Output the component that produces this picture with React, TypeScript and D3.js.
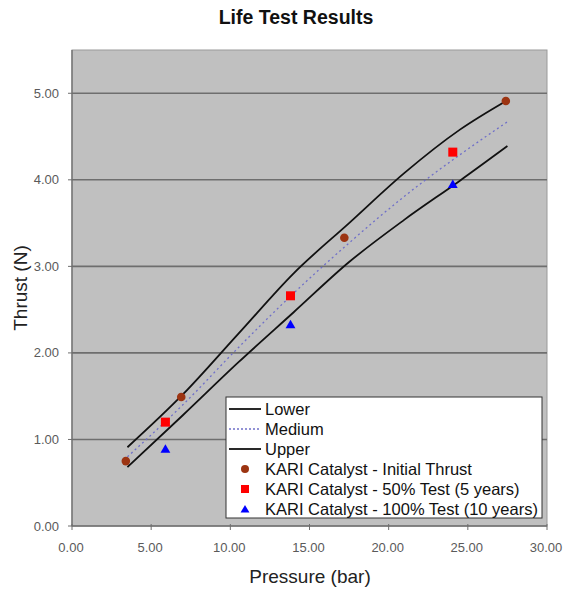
import React from 'react';
import * as d3 from 'd3';

// pressure (bar) where the model curves were sampled
const curvePressure = [3.5, 7, 10.5, 14, 17.5, 21, 24.5, 27.5];
const lowerThrust = [0.68, 1.28, 1.89, 2.47, 3.05, 3.54, 3.99, 4.39];
const mediumThrust = [0.8, 1.4, 2.06, 2.69, 3.27, 3.81, 4.29, 4.67];
const upperThrust = [0.91, 1.52, 2.22, 2.92, 3.5, 4.08, 4.58, 4.92];

// measured points
const initialPressure = [3.4, 6.9, 17.2, 27.4];
const initialThrust = [0.75, 1.49, 3.33, 4.91];
const testPressure = [5.9, 13.8, 24.05];
const halfTestThrust = [1.2, 2.66, 4.32];
const fullTestThrust = [0.89, 2.33, 3.95];

const xTicks = [0, 5, 10, 15, 20, 25, 30];
const yTicks = [0, 1, 2, 3, 4, 5];
const gridTicks = [1, 2, 3, 4, 5];

const legendLabels = [
  'Lower',
  'Medium',
  'Upper',
  'KARI Catalyst - Initial Thrust',
  'KARI Catalyst - 50% Test (5 years)',
  'KARI Catalyst - 100% Test (10 years)',
];

const W = 564;
const H = 590;
const margin = { top: 50, right: 17, bottom: 64, left: 72 };
const font = '"Liberation Sans", Arial, sans-serif';

const BROWN = '#9c3412';
const RED = '#ff0000';
const BLUE = '#0000ff';
const DOTTED = '#6f6fc8';

const App = () => {
  const x = d3.scaleLinear().domain([0, 30]).range([margin.left, W - margin.right]);
  const y = d3.scaleLinear().domain([0, 5.5]).range([H - margin.bottom, margin.top]);

  const line = d3
    .line<number>()
    .x((_, i) => x(curvePressure[i]))
    .y((d) => y(d))
    .curve(d3.curveMonotoneX);

  const tri = d3.symbol().type(d3.symbolTriangle).size(42)() || '';
  const triSmall = d3.symbol().type(d3.symbolTriangle).size(34)() || '';

  const x0 = x(0);
  const x1 = x(30);
  const y0 = y(0);
  const y1 = y(5.5);

  // legend box
  const lg = { x: 226, y: 397, w: 316, h: 121, row: 20 };

  return (
    <svg
      width={W}
      height={H}
      style={{ position: 'absolute', left: 0, top: 0, background: '#fff' }}
      fontFamily={font}
    >
      <text x={296} y={24} textAnchor="middle" fontSize={19.5} fontWeight="bold" fill="#111">
        Life Test Results
      </text>

      {/* plot area */}
      <rect x={x0} y={y1} width={x1 - x0} height={y0 - y1} fill="#c0c0c0" stroke="#9a9a9a" strokeWidth={1} />

      {gridTicks.map((t) => (
        <line key={t} x1={x0} x2={x1} y1={y(t)} y2={y(t)} stroke="#6e6e6e" strokeWidth={1.6} />
      ))}

      {/* axes */}
      <line x1={x0} x2={x0} y1={y1} y2={y0} stroke="#6e6e6e" strokeWidth={1.3} />
      <line x1={x0} x2={x1} y1={y0} y2={y0} stroke="#6e6e6e" strokeWidth={1.3} />
      {xTicks.map((t) => (
        <g key={t}>
          <line x1={x(t)} x2={x(t)} y1={y0 - 2} y2={y0 + 4} stroke="#6e6e6e" strokeWidth={1} />
          <text x={x(t) - 1} y={y0 + 26} textAnchor="middle" fontSize={13} fill="#5a5a5a">
            {t.toFixed(2)}
          </text>
        </g>
      ))}
      {yTicks.map((t) => (
        <g key={t}>
          <line x1={x0 - 4} x2={x0} y1={y(t)} y2={y(t)} stroke="#6e6e6e" strokeWidth={1} />
          <text x={x0 - 13} y={y(t) + 4.5} textAnchor="end" fontSize={13} fill="#5a5a5a">
            {t.toFixed(2)}
          </text>
        </g>
      ))}

      <text x={310} y={583} textAnchor="middle" fontSize={19} fill="#222">
        Pressure (bar)
      </text>
      <text
        transform={`translate(27,${(y0 + y1) / 2}) rotate(-90)`}
        textAnchor="middle"
        fontSize={19}
        fill="#222"
      >
        Thrust (N)
      </text>

      {/* model curves */}
      <path d={line(lowerThrust) || ''} fill="none" stroke="#111" strokeWidth={1.8} />
      <path d={line(upperThrust) || ''} fill="none" stroke="#111" strokeWidth={1.8} />
      <path d={line(mediumThrust) || ''} fill="none" stroke={DOTTED} strokeWidth={1.3} strokeDasharray="2,3" />

      {/* measurements */}
      {initialPressure.map((p, i) => (
        <circle key={i} cx={x(p)} cy={y(initialThrust[i])} r={4.3} fill={BROWN} />
      ))}
      {testPressure.map((p, i) => (
        <rect key={i} x={x(p) - 4.5} y={y(halfTestThrust[i]) - 4.5} width={9} height={9} fill={RED} />
      ))}
      {testPressure.map((p, i) => (
        <path key={i} d={tri} transform={`translate(${x(p)},${y(fullTestThrust[i]) + 1})`} fill={BLUE} />
      ))}

      {/* legend */}
      <rect x={lg.x} y={lg.y} width={lg.w} height={lg.h} fill="#fff" stroke="#333" strokeWidth={1} />
      {legendLabels.map((label, i) => {
        const cy = lg.y + 12 + i * lg.row;
        const mx = lg.x + 19;
        return (
          <g key={label}>
            {i === 0 || i === 2 ? (
              <line x1={lg.x + 3} x2={lg.x + 35} y1={cy} y2={cy} stroke="#111" strokeWidth={1.8} />
            ) : null}
            {i === 1 ? (
              <line
                x1={lg.x + 3}
                x2={lg.x + 35}
                y1={cy}
                y2={cy}
                stroke={DOTTED}
                strokeWidth={1.3}
                strokeDasharray="2,2"
              />
            ) : null}
            {i === 3 ? <circle cx={mx} cy={cy} r={4} fill={BROWN} /> : null}
            {i === 4 ? <rect x={mx - 4} y={cy - 4} width={8} height={8} fill={RED} /> : null}
            {i === 5 ? <path d={triSmall} transform={`translate(${mx},${cy + 1})`} fill={BLUE} /> : null}
            <text x={lg.x + 39} y={cy + 5.5} fontSize={16.5} fill="#111">
              {label}
            </text>
          </g>
        );
      })}
    </svg>
  );
};

export default App;
